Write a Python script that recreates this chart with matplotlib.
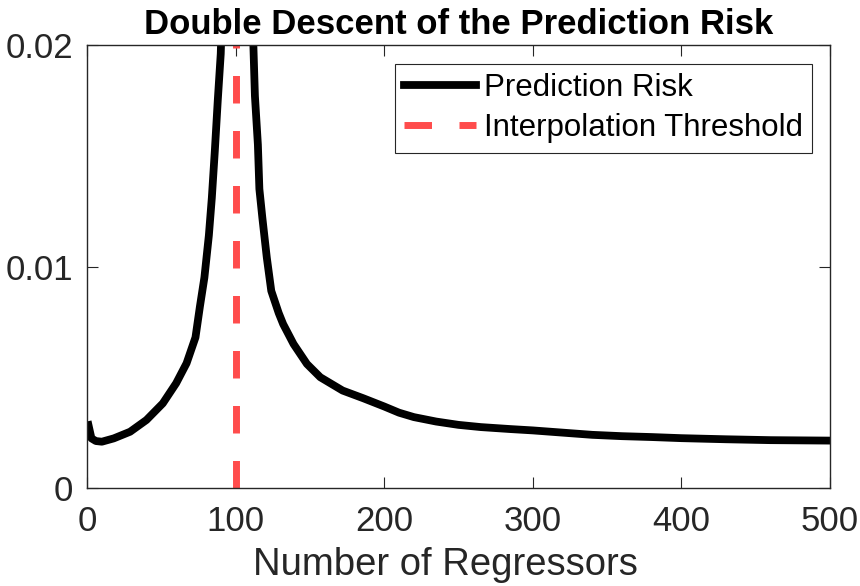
import matplotlib
matplotlib.use("Agg")
import matplotlib.pyplot as plt

plt.rcParams['font.family'] = ['Liberation Sans', 'DejaVu Sans']

# Data
regressors = [1, 3, 6, 10, 18, 29, 40, 51, 60, 67, 73, 76, 79, 82, 84, 86,
              88, 90, 92, 95, 98, 100, 102, 105, 108, 110, 112, 113, 115, 116,
              118, 121, 124, 129, 132, 139, 148, 157, 172, 186, 200, 210, 220,
              235, 250, 265, 285, 300, 320, 340, 360, 380, 400, 430, 460, 500]
risk = [0.00284, 0.00224, 0.00212, 0.00209, 0.00224, 0.00254, 0.00307,
        0.00382, 0.00473, 0.00563, 0.0068, 0.0082, 0.0095, 0.0114, 0.0131,
        0.0152, 0.0175, 0.0196, 0.024, 0.035, 0.08, 0.5, 0.08, 0.045, 0.03,
        0.0235, 0.0199, 0.0177, 0.0155, 0.0135, 0.0122, 0.0104, 0.0089,
        0.0079, 0.0074, 0.0065, 0.0056, 0.0050, 0.0044, 0.00405, 0.00368,
        0.0034, 0.0032, 0.0030, 0.00285, 0.00275, 0.00266, 0.0026, 0.0025,
        0.0024, 0.00234, 0.0023, 0.00225, 0.0022, 0.00216, 0.00214]
threshold = 100
x_ticks = [0, 100, 200, 300, 400, 500]
y_ticks = [0, 0.01, 0.02]
y_tick_labels = ['0', '0.01', '0.02']

fig = plt.figure(figsize=(8.6, 5.86), dpi=100)
ax = fig.add_axes([87/860, 1 - 488/586, (830 - 87)/860, (488 - 45)/586])

ax.plot(regressors, risk, color='black', lw=5.6, solid_joinstyle='round',
        label='Prediction Risk')
ln, = ax.plot([threshold, threshold], [0, 0.02], color='#ff4c4c', lw=5,
              label='Interpolation Threshold')
ln.set_dashes([3.96, 3.96])

ax.set_xlim(0, 500)
ax.set_ylim(0, 0.02)
ax.set_xticks(x_ticks)
ax.set_yticks(y_ticks)
ax.set_yticklabels(y_tick_labels)
ax.tick_params(direction='in', length=8, width=0.8, top=True, right=True,
               labelsize=25, colors='#262626', pad=10)
ax.tick_params(axis='x', pad=12)
for s in ax.spines.values():
    s.set_color('#262626')
    s.set_linewidth(1.0)

ax.set_xlabel('Number of Regressors', fontsize=27.5, color='#262626')
ax.xaxis.set_label_coords((445 - 87) / 743, -(547 - 488) / 443)
ax.set_title('Double Descent of the Prediction Risk', fontsize=25,
             fontweight='bold', pad=8)

leg = ax.legend(loc='upper right', bbox_to_anchor=(0.9758, 0.957),
                fontsize=22.5, handlelength=2.3, handletextpad=0.25,
                labelspacing=0.32, borderpad=0.3, borderaxespad=0,
                fancybox=False, framealpha=1)
leg.get_frame().set_edgecolor('#262626')
leg.get_frame().set_linewidth(0.8)

fig.savefig('out.png', dpi=100)
